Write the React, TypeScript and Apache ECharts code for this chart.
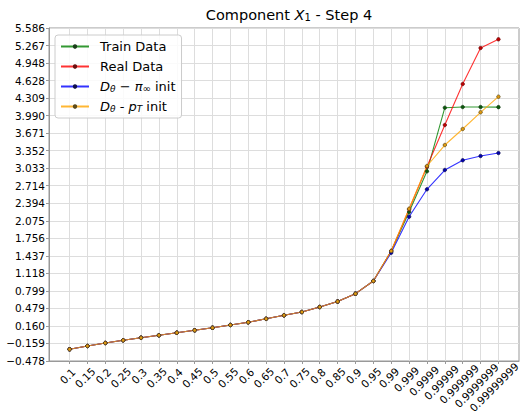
import React, { useEffect, useRef } from "react";
import * as echarts from "echarts";

const categories = [
  "0.1", "0.15", "0.2", "0.25", "0.3", "0.35", "0.4", "0.45", "0.5", "0.55",
  "0.6", "0.65", "0.7", "0.75", "0.8", "0.85", "0.9", "0.95", "0.99", "0.999",
  "0.9999", "0.99999", "0.999999", "0.9999999", "0.99999999",
];

const trainData = [
  -0.265, -0.205, -0.15, -0.101, -0.054, -0.01, 0.037, 0.081, 0.128, 0.178,
  0.227, 0.29, 0.354, 0.414, 0.505, 0.605, 0.748, 0.979, 1.525, 2.235,
  2.976, 4.135, 4.147, 4.147, 4.145,
];
const realData = [
  -0.265, -0.205, -0.15, -0.101, -0.054, -0.01, 0.037, 0.081, 0.128, 0.178,
  0.227, 0.29, 0.354, 0.414, 0.505, 0.605, 0.748, 0.979, 1.525, 2.284,
  3.06, 3.82, 4.566, 5.222, 5.38,
];
const piInitData = [
  -0.265, -0.205, -0.15, -0.101, -0.054, -0.01, 0.037, 0.081, 0.128, 0.178,
  0.227, 0.29, 0.354, 0.414, 0.505, 0.605, 0.748, 0.979, 1.494, 2.15,
  2.649, 3.0, 3.177, 3.255, 3.31,
];
const pTInitData = [
  -0.265, -0.205, -0.15, -0.101, -0.054, -0.01, 0.037, 0.081, 0.128, 0.178,
  0.227, 0.29, 0.354, 0.414, 0.505, 0.605, 0.748, 0.979, 1.525, 2.295,
  3.073, 3.455, 3.747, 4.051, 4.335,
];

const yTickLabels = [
  "−0.478", "−0.159", "0.160", "0.479", "0.799", "1.118", "1.437", "1.756",
  "2.075", "2.394", "2.714", "3.033", "3.352", "3.671", "3.990", "4.309",
  "4.628", "4.948", "5.267", "5.586",
];

const seriesNames = ["Train Data", "Real Data", "Dθ − π∞ init", "Dθ - pT init"];

const FONT = "DejaVu Sans";
const XFS = 10.6;

export default function App() {
  const ref = useRef<HTMLDivElement>(null);
  useEffect(() => {
    if (!ref.current) return;
    const chart = echarts.init(ref.current, null, { renderer: "svg" });
    const yTicks = yTickLabels.map((s) => parseFloat(s.replace("−", "-")));
    const xTicks = categories.map((_, i) => i);
    const toPairs = (arr: number[]) => arr.map((v, i) => [i, v]);

    // rich styles that centre each rotated label roughly on its tick (matplotlib style)
    const xRich: Record<string, any> = {};
    categories.forEach((c, i) => {
      let w = 0;
      for (const ch of c) w += ch === "." ? 0.318 : 0.636;
      const L = w * XFS;
      const dx = -2 - 0.05 * (L - 17.5);
      const sum = 31.7 + 0.66 * (L - 17.5);
      const diff = 2.83 * dx;
      const pt = (sum + diff) / 2;
      const pr = (sum - diff) / 2;
      xRich["t" + i] = {
        fontFamily: FONT,
        fontSize: XFS,
        color: "#000",
        padding: [pt, pr, 0, 0],
      };
    });

    const mk = (name: string, data: number[], line: string, mark: string, border: string) => ({
      name,
      type: "line",
      data: toPairs(data),
      symbol: "circle",
      symbolSize: 3.5,
      showSymbol: true,
      lineStyle: { color: line, width: 1.1, opacity: 0.8 },
      itemStyle: { color: mark, borderColor: border, borderWidth: 0.7 },
      emphasis: { disabled: true },
    });

    const subStyle = { fontFamily: FONT, fontSize: 9, fontWeight: "normal", verticalAlign: "bottom", color: "#000" };
    const legendRich = {
      n: { fontFamily: FONT, fontSize: 13, fontWeight: "normal", color: "#000" },
      i: { fontFamily: FONT, fontSize: 13, fontWeight: "normal", fontStyle: "italic", color: "#000" },
      s: { ...subStyle, fontStyle: "italic" },
      u: { ...subStyle, fontSize: 10 },
    };

    chart.setOption({
      animation: false,
      title: {
        text: "{n|Component }{i|X}{u|1}{n| - Step 4}",
        left: 284,
        top: 2,
        textAlign: "center",
        textStyle: {
          fontWeight: "normal",
          rich: {
            n: { fontFamily: FONT, fontSize: 14.5, fontWeight: "normal", color: "#000" },
            i: { fontFamily: FONT, fontSize: 14.5, fontWeight: "normal", fontStyle: "italic", color: "#000" },
            u: { fontFamily: FONT, fontSize: 10, fontWeight: "normal", verticalAlign: "bottom", color: "#000" },
          },
        },
      },
      legend: {
        orient: "vertical",
        left: 55,
        top: 35,
        data: seriesNames,
        itemWidth: 28,
        itemHeight: 3,
        itemGap: 7,
        padding: [5, 6, 5, 5],
        borderColor: "#cccccc",
        borderWidth: 1,
        borderRadius: 3,
        backgroundColor: "rgba(255,255,255,0.85)",
        textStyle: { fontFamily: FONT, fontSize: 13, color: "#000", padding: [0, 0, 0, 6], rich: legendRich },
        formatter: (name: string) => {
          if (name === seriesNames[2]) return "{i|D}{s|θ}{n| − }{i|π}{u|∞}{n| init}";
          if (name === seriesNames[3]) return "{i|D}{s|θ}{n| - }{i|p}{s|T}{n| init}";
          return "{n|" + name + "}";
        },
      },
      grid: {
        left: 49,
        right: 5,
        top: 28,
        bottom: 54,
        show: true,
        borderColor: "#999999",
        borderWidth: 1,
        containLabel: false,
        outerBoundsMode: "none",
      },
      xAxis: {
        type: "value",
        min: -1.15,
        max: 25.15,
        axisLine: { show: true, onZero: false, lineStyle: { color: "#999999" } },
        axisTick: { show: true, length: 3, customValues: xTicks, lineStyle: { color: "#999999" } },
        axisLabel: {
          customValues: xTicks,
          rotate: 45,
          align: "center",
          verticalAlign: "middle",
          margin: 4,
          hideOverlap: false,
          fontFamily: FONT,
          fontSize: XFS,
          color: "#000",
          rich: xRich,
          formatter: (v: number) => {
            const i = Math.round(v);
            return categories[i] !== undefined ? "{t" + i + "|" + categories[i] + "}" : "";
          },
        },
        splitLine: { show: true, lineStyle: { color: "#dddddd", width: 1 } },
      },
      yAxis: {
        type: "value",
        min: yTicks[0],
        max: yTicks[yTicks.length - 1],
        axisLine: { show: true, onZero: false, lineStyle: { color: "#999999" } },
        axisTick: { show: true, length: 3, customValues: yTicks, lineStyle: { color: "#999999" } },
        axisLabel: {
          customValues: yTicks,
          margin: 4,
          fontFamily: FONT,
          fontSize: 10.5,
          color: "#000",
          formatter: (v: number) => {
            let best = 0;
            yTicks.forEach((t, i) => {
              if (Math.abs(t - v) < Math.abs(yTicks[best] - v)) best = i;
            });
            return yTickLabels[best];
          },
        },
        splitLine: { show: true, lineStyle: { color: "#dddddd", width: 1 } },
      },
      series: [
        mk(seriesNames[0], trainData, "#008000", "#0a5a0a", "#1b3d1b"),
        mk(seriesNames[1], realData, "#ff0000", "#c00000", "#6a1010"),
        mk(seriesNames[2], piInitData, "#0000ff", "#0000b0", "#10104a"),
        mk(seriesNames[3], pTInitData, "#ffa500", "#e09a10", "#5a4a1a"),
      ],
    });
    return () => chart.dispose();
  }, []);
  return (
    <div
      ref={ref}
      style={{ position: "fixed", left: 0, top: 0, width: 524, height: 415, background: "#fff" }}
    />
  );
}
